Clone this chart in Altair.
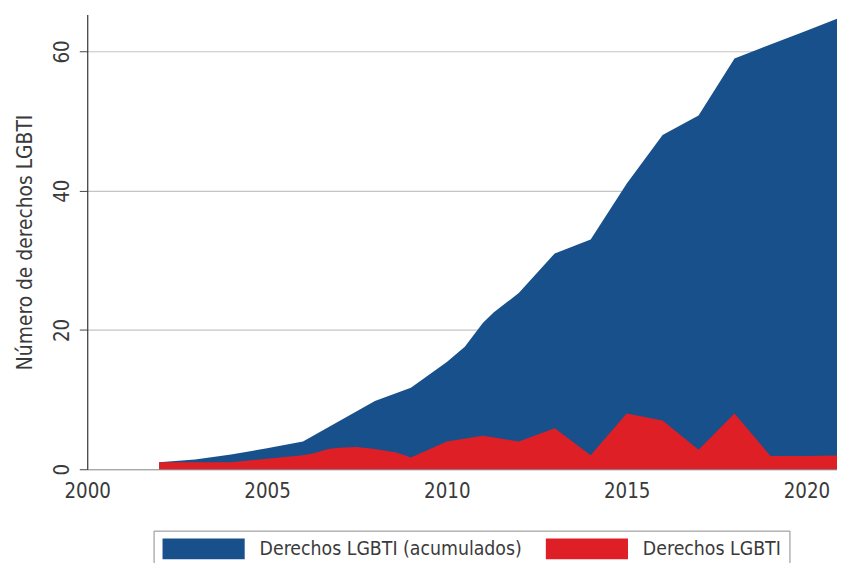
import altair as alt
import pandas as pd

# Cumulative LGBTI rights (blue)
acum_x = [2002, 2003, 2004, 2005, 2006, 2007, 2008, 2009, 2010, 2010.5, 2011, 2011.3, 2012, 2013, 2014, 2015, 2016, 2017, 2018, 2019, 2020, 2021]
acum_y = [1.0, 1.4, 2.1, 3.0, 4.0, 6.9, 9.8, 11.7, 15.4, 17.6, 21.0, 22.5, 25.3, 31.0, 33.0, 41.0, 48.0, 50.8, 59.0, 61.0, 63.0, 65.0]

# Annual LGBTI rights (red)
anual_x = [2002, 2004, 2005, 2006, 2006.3, 2006.7, 2007, 2007.5, 2008, 2008.6, 2009, 2010, 2011, 2012, 2013, 2014, 2015, 2016, 2017, 2018, 2019, 2020, 2021]
anual_y = [1.0, 1.0, 1.5, 2.0, 2.3, 2.9, 3.1, 3.2, 2.9, 2.4, 1.7, 4.0, 4.8, 4.0, 5.9, 2.0, 8.0, 7.0, 2.8, 8.0, 1.9, 1.9, 2.0]

series = ["Derechos LGBTI (acumulados)", "Derechos LGBTI"]
colors = ["#17508a", "#de1f26"]
x_ticks = [2000, 2005, 2010, 2015, 2020]
y_ticks = [0, 20, 40, 60]

df = pd.concat([
    pd.DataFrame({"anio": acum_x, "valor": acum_y, "serie": series[0]}),
    pd.DataFrame({"anio": anual_x, "valor": anual_y, "serie": series[1]}),
])

FONT = "Liberation Sans Narrow, Arial Narrow, DejaVu Sans Condensed, Liberation Sans, sans-serif"
TXT = "#3a3a3a"

x_enc = alt.X(
    "anio:Q",
    scale=alt.Scale(domain=[2000, 2020.85], nice=False, zero=False),
    axis=alt.Axis(
        values=x_ticks, format="d", title=None, ticks=False, grid=False,
        labelFlush=False, labelFontSize=20.5, labelColor=TXT, labelPadding=13,
        domainColor="#9a9a9a", domainWidth=1.2, labelFont=FONT,
    ),
)
y_enc = alt.Y(
    "valor:Q",
    scale=alt.Scale(domain=[0, 65.3], nice=False),
    axis=alt.Axis(
        values=y_ticks, title="Número de derechos LGBTI", grid=True,
        gridColor="#c4c4c4", gridWidth=1.2, labelAngle=-90,
        labelFontSize=20.5, labelColor=TXT, labelPadding=7, labelFont=FONT,
        tickSize=8, tickColor="#444", domainColor="#333", domainWidth=1.2,
        titleFontSize=21, titleFontWeight="normal", titleColor=TXT,
        titleFont=FONT, titlePadding=17,
    ),
)
color_enc = alt.Color(
    "serie:N",
    scale=alt.Scale(domain=series, range=colors),
    legend=alt.Legend(
        title=None, orient="none", legendX=67, legendY=521,
        direction="horizontal", strokeColor="#8a8a8a", fillColor="white",
        padding=8, symbolType="M-3.95,-1H3.95V1H-3.95Z", symbolSize=441,
        symbolOffset=32,
        symbolStrokeWidth=0, symbolOpacity=1, labelFontSize=19.5,
        labelColor=TXT, labelFont=FONT, labelOffset=46, columnPadding=22,
        labelLimit=400,
    ),
)

blue = alt.Chart(df).transform_filter(alt.datum.serie == series[0]).mark_area(
    opacity=1
).encode(x=x_enc, y=y_enc, color=color_enc)
red = alt.Chart(df).transform_filter(alt.datum.serie == series[1]).mark_area(
    opacity=1
).encode(x=x_enc, y=y_enc, color=color_enc)

chart = alt.layer(blue, red).properties(
    width=757, height=459,
    autosize=alt.AutoSizeParams(type="none"),
    padding={"left": 80, "top": 4, "right": 0, "bottom": 92},
).configure_view(stroke=None).configure_axis(labelFont=FONT, titleFont=FONT)

chart.save("out.html", embed_options={"renderer": "svg", "actions": False})
